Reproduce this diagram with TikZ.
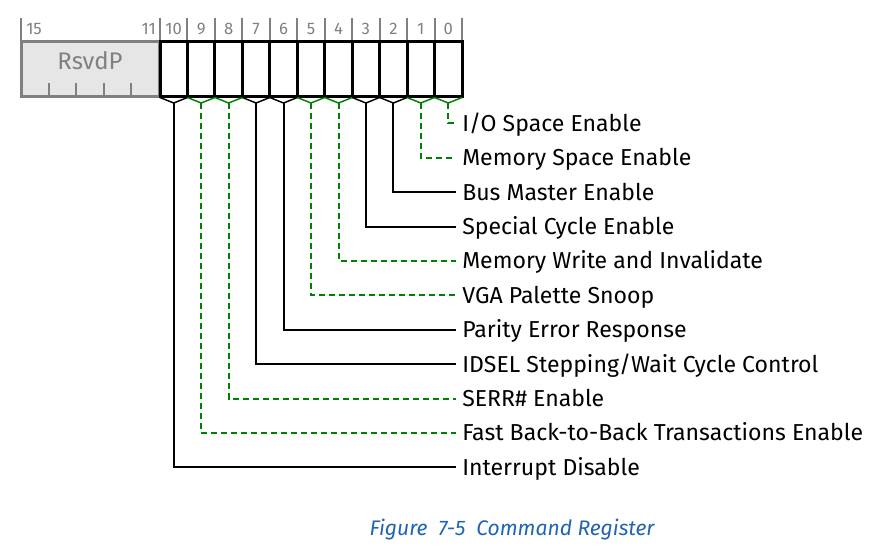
\documentclass[tikz,border=0pt]{standalone}
\usepackage{fontspec}
\setmainfont{Fira Sans}
\usetikzlibrary{positioning}
\definecolor{bitgreen}{RGB}{0,128,0}
\definecolor{rsvgray}{RGB}{128,128,128}
\definecolor{rsvfill}{RGB}{230,230,230}
\definecolor{capblue}{RGB}{31,100,180}

\begin{document}
\begin{tikzpicture}[x=0.75pt,y=-0.75pt,every node/.style={font=\fontsize{17.3}{20}\selectfont},
  bitnum/.style={text=rsvgray,font=\fontsize{12.5}{14}\selectfont,inner sep=0pt},
  fieldlabel/.style={anchor=west,inner xsep=4.5pt,inner ysep=0pt,text height=11.9pt,text depth=0pt},
  blackfork/.style={line width=1.1pt,black},
  greenfork/.style={line width=1.1pt,bitgreen},
  blacklead/.style={line width=1.5pt,black},
  greenlead/.style={line width=1.5pt,bitgreen,dash pattern=on 4.5pt off 3pt}]
\useasboundingbox (0,0) rectangle (881,551);
% reserved field
\fill[rsvfill] (21,41) rectangle (159,96);
\draw[rsvgray,line width=1.5pt] (21,18)--(21,41);
\draw[rsvgray,line width=1.5pt] (48.6,83)--(48.6,96);
\draw[rsvgray,line width=1.5pt] (76.2,83)--(76.2,96);
\draw[rsvgray,line width=1.5pt] (103.8,83)--(103.8,96);
\draw[rsvgray,line width=1.5pt] (131.4,83)--(131.4,96);
\draw[rsvgray,line width=2.25pt] (21,41) rectangle (159,96);
\node[text=rsvgray,font=\fontsize{18}{21}\selectfont] (rsvd) at (90,61) {RsvdP};
\node[bitnum,anchor=west] (n15) at (26,29) {15};
\node[bitnum,anchor=east] (n11) at (156,29) {11};
% bit edges
\coordinate (e0) at (160,41);
\coordinate (e1) at (187.45,41);
\coordinate (e2) at (214.9,41);
\coordinate (e3) at (242.4,41);
\coordinate (e4) at (269.8,41);
\coordinate (e5) at (297.3,41);
\coordinate (e6) at (324.7,41);
\coordinate (e7) at (352.2,41);
\coordinate (e8) at (379.6,41);
\coordinate (e9) at (407.1,41);
\coordinate (e10) at (434.5,41);
\coordinate (e11) at (462,41);
\foreach \k in {0,...,11}{\draw[rsvgray,line width=1.5pt] (e\k)++(0,-23)--(e\k);}
\foreach \k in {1,...,10}{\draw[line width=2.25pt] (e\k)--++(0,55);}
\draw[line width=2.25pt] (e0) rectangle (462,96);
% bit numbers
\node[bitnum] (n10) at (173.7,29) {10};
\node[bitnum] (n9) at (201.2,29) {9};
\node[bitnum] (n8) at (228.6,29) {8};
\node[bitnum] (n7) at (256.1,29) {7};
\node[bitnum] (n6) at (283.5,29) {6};
\node[bitnum] (n5) at (311.0,29) {5};
\node[bitnum] (n4) at (338.5,29) {4};
\node[bitnum] (n3) at (365.9,29) {3};
\node[bitnum] (n2) at (393.4,29) {2};
\node[bitnum] (n1) at (420.8,29) {1};
\node[bitnum] (n0) at (448.3,29) {0};
% forks under the bits
\coordinate (s10) at (173.7,103);
\coordinate (s9) at (201.2,103);
\coordinate (s8) at (228.6,103);
\coordinate (s7) at (256.1,103);
\coordinate (s6) at (283.5,103);
\coordinate (s5) at (311.0,103);
\coordinate (s4) at (338.5,103);
\coordinate (s3) at (365.9,103);
\coordinate (s2) at (393.4,103);
\coordinate (s1) at (420.8,103);
\coordinate (s0) at (448.3,103);
\draw[blackfork] (160,97.5)--(s10)--(187.45,97.5);
\draw[greenfork] (187.45,97.5)--(s9)--(214.9,97.5);
\draw[greenfork] (214.9,97.5)--(s8)--(242.4,97.5);
\draw[blackfork] (242.4,97.5)--(s7)--(269.8,97.5);
\draw[blackfork] (269.8,97.5)--(s6)--(297.3,97.5);
\draw[greenfork] (297.3,97.5)--(s5)--(324.7,97.5);
\draw[greenfork] (324.7,97.5)--(s4)--(352.2,97.5);
\draw[blackfork] (352.2,97.5)--(s3)--(379.6,97.5);
\draw[blackfork] (379.6,97.5)--(s2)--(407.1,97.5);
\draw[greenfork] (407.1,97.5)--(s1)--(434.5,97.5);
\draw[greenfork] (434.5,97.5)--(s0)--(462,97.5);
% field names
\node[fieldlabel] (f0) at (456,123.3) {I/O Space Enable};
\node[fieldlabel] (f1) at (456,157.7) {Memory Space Enable};
\node[fieldlabel] (f2) at (456,192.1) {Bus Master Enable};
\node[fieldlabel] (f3) at (456,226.5) {Special Cycle Enable};
\node[fieldlabel] (f4) at (456,260.9) {Memory Write and Invalidate};
\node[fieldlabel] (f5) at (456,295.3) {VGA Palette Snoop};
\node[fieldlabel] (f6) at (456,329.7) {Parity Error Response};
\node[fieldlabel] (f7) at (456,364.1) {IDSEL Stepping/Wait Cycle Control};
\node[fieldlabel] (f8) at (456,398.5) {SERR\# Enable};
\node[fieldlabel] (f9) at (456,432.9) {Fast Back-to-Back Transactions Enable};
\node[fieldlabel] (f10) at (456,467.3) {Interrupt Disable};
\draw[greenlead] (s0) |- (f0.west);
\draw[greenlead] (s1) |- (f1.west);
\draw[blacklead] (s2) |- (f2.west);
\draw[blacklead] (s3) |- (f3.west);
\draw[greenlead] (s4) |- (f4.west);
\draw[greenlead] (s5) |- (f5.west);
\draw[blacklead] (s6) |- (f6.west);
\draw[blacklead] (s7) |- (f7.west);
\draw[greenlead] (s8) |- (f8.west);
\draw[greenlead] (s9) |- (f9.west);
\draw[blacklead] (s10) |- (f10.west);
\node[text=capblue,font=\fontsize{15.8}{18}\selectfont\itshape] (cap) at (512,530) {Figure~~7-5~~Command Register};
\end{tikzpicture}
\end{document}
